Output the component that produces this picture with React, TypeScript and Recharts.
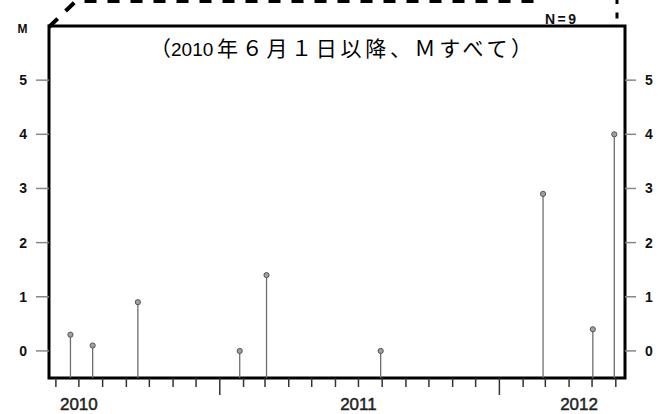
import React from 'react';
import { ComposedChart, XAxis, YAxis, Scatter, ReferenceLine, ReferenceArea } from 'recharts';

const DAY_MS = 86400000;
const toDay = (s: string): number => {
  const [y, m, d] = s.split('-').map(Number);
  return Date.UTC(y, m - 1, d) / DAY_MS;
};

// Events (date, magnitude)
const eventDates = [
  '2010-06-20', '2010-07-19', '2010-09-16', '2011-01-27', '2011-03-03',
  '2011-07-30', '2012-02-27', '2012-05-02', '2012-05-30',
];
const magnitudes = [0.3, 0.1, 0.9, 0.0, 1.4, 0.0, 2.9, 0.4, 4.0];

// Axis definitions
const xStart = '2010-05-23';
const xEnd = '2012-06-13';
const monthTickDates = [
  '2010-06-01', '2010-07-01', '2010-08-01', '2010-09-01', '2010-10-01', '2010-11-01', '2010-12-01',
  '2011-01-01', '2011-02-01', '2011-03-01', '2011-04-01', '2011-05-01', '2011-06-01', '2011-07-01',
  '2011-08-01', '2011-09-01', '2011-10-01', '2011-11-01', '2011-12-01',
  '2012-01-01', '2012-02-01', '2012-03-01', '2012-04-01', '2012-05-01', '2012-06-01',
];
const yearStartDates = ['2011-01-01', '2012-01-01'];
const yearLabels = ['2010', '2011', '2012'];
const yearLabelDates = ['2010-07-01', '2011-07-01', '2012-04-14'];
const magTicks = [0, 1, 2, 3, 4, 5];
const magDomain: [number, number] = [-0.5, 6];

const titleText = '（2010 年６月１日以降、Ｍすべて）';
const countText = 'N=9';
const yUnit = 'M';

const points = eventDates.map((d, i) => ({ t: toDay(d), m: magnitudes[i] }));
const xDomain: [number, number] = [toDay(xStart), toDay(xEnd)];
const monthTicks = monthTickDates.map(toDay);
const yearStartDays = yearStartDates.map(toDay);
const yearLabelDays = yearLabelDates.map(toDay);

const MonthTick = (props: any) => {
  const { x, y, payload } = props;
  const long = yearStartDays.includes(payload.value);
  return <line x1={x} x2={x} y1={y} y2={y + (long ? 17 : 9)} stroke="#333" strokeWidth={1.5} />;
};

const YearTick = (props: any) => {
  const { x, y, payload } = props;
  const i = yearLabelDays.indexOf(payload.value);
  return (
    <text x={x} y={y + 30} textAnchor="middle" fontSize={17} fontFamily="'Liberation Sans', Arial, sans-serif" fill="#222" stroke="#222" strokeWidth={0.45}>
      {yearLabels[i]}
    </text>
  );
};

const Dot = (props: any) => {
  const { cx, cy } = props;
  return <circle cx={cx} cy={cy} r={2.6} fill="#a0a0a0" stroke="#555" strokeWidth={1} />;
};

const yTickStyle = { fontSize: 14, fontWeight: 'bold', fill: '#111', fontFamily: "'Liberation Sans', Arial, sans-serif" };

export default function App() {
  return (
    <div style={{ position: 'absolute', left: 0, top: 0, width: 659, height: 414, background: '#fff' }}>
      <ComposedChart width={659} height={414} data={points} margin={{ top: 26, right: 0, bottom: 0, left: 0 }}>
        <XAxis
          xAxisId="months"
          dataKey="t"
          type="number"
          domain={xDomain}
          allowDataOverflow
          ticks={monthTicks}
          interval={0}
          height={2}
          tickSize={0}
          tickMargin={0}
          axisLine={false}
          tickLine={false}
          tick={<MonthTick />}
        />
        <XAxis
          xAxisId="years"
          dataKey="t"
          type="number"
          domain={xDomain}
          allowDataOverflow
          ticks={yearLabelDays}
          interval={0}
          height={34}
          tickSize={0}
          tickMargin={0}
          axisLine={false}
          tickLine={false}
          tick={<YearTick />}
        />
        <YAxis
          yAxisId="left"
          dataKey="m"
          type="number"
          domain={magDomain}
          allowDataOverflow
          ticks={magTicks}
          interval={0}
          width={49}
          tickSize={13}
          tickMargin={9}
          axisLine={false}
          tickLine={{ stroke: '#888', strokeWidth: 1.5 }}
          tick={yTickStyle}
        />
        <YAxis
          yAxisId="right"
          orientation="right"
          type="number"
          domain={magDomain}
          allowDataOverflow
          ticks={magTicks}
          interval={0}
          width={34}
          tickSize={11}
          tickMargin={9}
          axisLine={false}
          tickLine={{ stroke: '#888', strokeWidth: 1.5 }}
          tick={yTickStyle}
        />
        {points.map((p, i) => (
          <ReferenceLine
            key={'stem' + i}
            xAxisId="months"
            yAxisId="left"
            segment={[{ x: p.t, y: magDomain[0] }, { x: p.t, y: p.m }]}
            stroke="#6e6e6e"
            strokeWidth={1.3}
          />
        ))}
        <Scatter
          xAxisId="months"
          yAxisId="left"
          data={points}
          dataKey="m"
          shape={<Dot />}
          isAnimationActive={false}
        />
        <ReferenceArea
          xAxisId="months"
          yAxisId="left"
          x1={xDomain[0]}
          x2={xDomain[1]}
          y1={magDomain[0]}
          y2={magDomain[1]}
          fill="none"
          fillOpacity={0}
          stroke="#000"
          strokeWidth={3}
          ifOverflow="visible"
        />
      </ComposedChart>
      <svg width={659} height={414} style={{ position: 'absolute', left: 0, top: 0, pointerEvents: 'none' }}>
        <path d="M49,27 L76,1 L535,1" fill="none" stroke="#000" strokeWidth={4} strokeDasharray="12 11" />
        <path d="M617,0 L617,4 M617,12.5 L617,18.5" fill="none" stroke="#000" strokeWidth={3} />
        <text x={22.5} y={33} textAnchor="middle" fontSize={12} fontWeight="bold" fontFamily="'Liberation Sans', Arial, sans-serif" fill="#111">
          {yUnit}
        </text>
        <text x={545} y={24} fontSize={14} fontWeight="bold" letterSpacing={2.5} fontFamily="'Liberation Sans', Arial, sans-serif" fill="#111">
          {countText}
        </text>
        <text y={56} fontSize={21} fontFamily="'Noto Sans CJK JP', sans-serif" fill="#000">
          <tspan x={150}>{titleText.slice(0, 1)}</tspan>
          <tspan fontFamily="'Liberation Sans', Arial, sans-serif" fontSize={19}>{titleText.slice(1, 5)}</tspan>
          <tspan x={217} letterSpacing={3.7}>{titleText.slice(6)}</tspan>
        </text>
      </svg>
    </div>
  );
}
